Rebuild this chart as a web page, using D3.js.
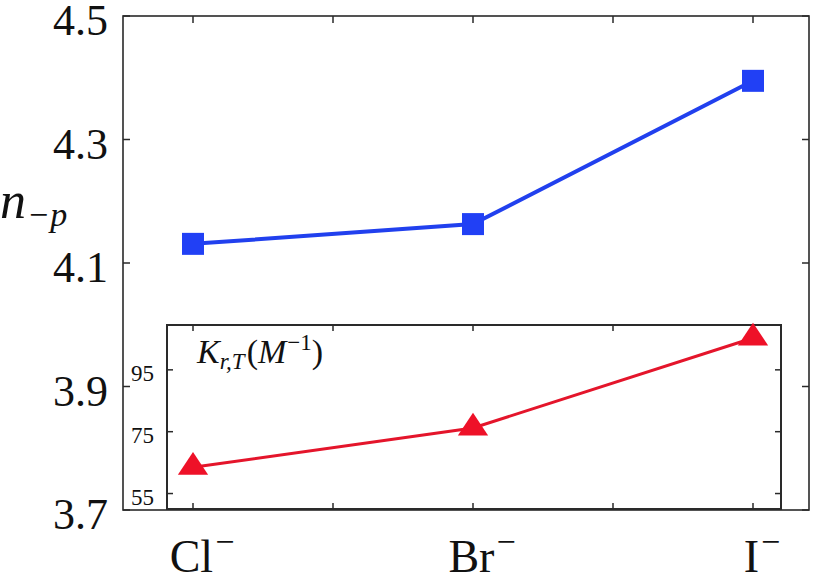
<!DOCTYPE html>
<html>
<head>
<meta charset="utf-8">
<script src="https://cdn.jsdelivr.net/npm/d3@7"></script>
<style>
  body { margin: 0; background: #fff; }
  text { font-family: "Liberation Serif", "DejaVu Serif", serif; fill: #111; }
</style>
</head>
<body>
<div class="chart"></div>
<script>
// data
var ions = ["Cl", "Br", "I"];
var nValues = [4.131, 4.163, 4.395];     // n_{-p}, main panel
var kValues = [63.5, 76.2, 105.3];       // K_{r,T} (M^-1), inset
var mainTicks = [3.7, 3.9, 4.1, 4.3, 4.5];
var insetTicks = [55, 75, 95];
var xTicks = [0, 0.5, 1, 1.5, 2];

var width = 813, height = 577;

var svg = d3.select(".chart")
    .append("svg")
    .attr("width", width)
    .attr("height", height);

// main panel scales
var x = d3.scaleLinear().domain([-0.25, 2.2]).range([123, 809]);
var y = d3.scaleLinear().domain([3.7, 4.5]).range([510, 16]);

// inset scales
var xi = d3.scaleLinear().domain([x.invert(167), x.invert(781)]).range([167, 781]);
var yi = d3.scaleLinear().domain([50, 109.5]).range([509, 325]);

var frameColor = "#2a2a2a";

function frame(xs, ys, w) {
    svg.append("rect")
        .attr("x", xs.range()[0])
        .attr("y", ys.range()[1])
        .attr("width", xs.range()[1] - xs.range()[0])
        .attr("height", ys.range()[0] - ys.range()[1])
        .attr("fill", "#fff")
        .attr("stroke", frameColor)
        .attr("stroke-width", w);
}

function ticks(xs, ys, xt, yt, len, w) {
    var g = svg.append("g")
        .attr("stroke", frameColor)
        .attr("stroke-width", w);
    var x0 = xs.range()[0], x1 = xs.range()[1];
    var y0 = ys.range()[0], y1 = ys.range()[1];
    yt.forEach(function (t) {
        g.append("line").attr("x1", x0).attr("x2", x0 + len).attr("y1", ys(t)).attr("y2", ys(t));
        g.append("line").attr("x1", x1).attr("x2", x1 - len).attr("y1", ys(t)).attr("y2", ys(t));
    });
    xt.forEach(function (t) {
        g.append("line").attr("x1", xs(t)).attr("x2", xs(t)).attr("y1", y1).attr("y2", y1 + len);
        g.append("line").attr("x1", xs(t)).attr("x2", xs(t)).attr("y1", y0).attr("y2", y0 - len);
    });
}

// ---- main panel
frame(x, y, 1.6);
ticks(x, y, xTicks, mainTicks, 7, 1.5);

svg.append("g").selectAll("text")
    .data(mainTicks)
    .enter().append("text")
    .attr("x", 108)
    .attr("y", function (d) { return y(d) + 19; })
    .attr("text-anchor", "end")
    .style("font-size", "44px")
    .text(function (d) { return d.toFixed(1); });

var line = d3.line()
    .x(function (d, i) { return x(i); })
    .y(function (d) { return y(d); });

svg.append("path")
    .datum(nValues)
    .attr("d", line)
    .attr("fill", "none")
    .attr("stroke", "#2140ee")
    .attr("stroke-width", 4);

svg.append("g").selectAll("rect")
    .data(nValues)
    .enter().append("rect")
    .attr("x", function (d, i) { return x(i) - 11; })
    .attr("y", function (d) { return y(d) - 11; })
    .attr("width", 22)
    .attr("height", 22)
    .attr("fill", "#2140f5");

// y label n_{-p}
var yl = svg.append("text")
    .attr("x", 0)
    .attr("y", 218)
    .style("font-size", "52px");
yl.append("tspan").style("font-style", "italic").text("n");
yl.append("tspan").attr("dx", 3).attr("dy", 8).style("font-size", "34px").text("\u2212");
yl.append("tspan").attr("dx", 2).style("font-size", "34px").style("font-style", "italic").text("p");

// x labels with superscript minus
ions.forEach(function (name, i) {
    var t = svg.append("text")
        .attr("x", x(i) + 9)
        .attr("y", 572)
        .attr("text-anchor", "middle")
        .style("font-size", "46px");
    t.append("tspan").text(name);
    t.append("tspan").attr("dx", 2).attr("dy", -19).style("font-size", "34px").text("\u2212");
});

// ---- inset
frame(xi, yi, 2);
ticks(xi, yi, xTicks, insetTicks, 6, 1.5);

svg.append("g").selectAll("text")
    .data(insetTicks)
    .enter().append("text")
    .attr("x", 154)
    .attr("y", function (d) { return yi(d) + 11; })
    .attr("text-anchor", "end")
    .style("font-size", "23px")
    .text(function (d) { return d; });

var lineI = d3.line()
    .x(function (d, i) { return xi(i); })
    .y(function (d) { return yi(d); });

svg.append("path")
    .datum(kValues)
    .attr("d", lineI)
    .attr("fill", "none")
    .attr("stroke", "#e4152b")
    .attr("stroke-width", 3);

var tri = d3.symbol().type(d3.symbolTriangle).size(300);
svg.append("g").selectAll("path")
    .data(kValues)
    .enter().append("path")
    .attr("d", tri)
    .attr("transform", function (d, i) {
        return "translate(" + xi(i) + "," + yi(d) + ") scale(1.15,1)";
    })
    .attr("fill", "#ee1128");

// inset label K_{r,T}(M^{-1})
var kl = svg.append("text")
    .attr("x", 197)
    .attr("y", 363)
    .style("font-size", "34px");
kl.append("tspan").style("font-style", "italic").text("K");
kl.append("tspan").attr("dy", 6).style("font-size", "23px").style("font-style", "italic").text("r,T");
kl.append("tspan").attr("dx", 2).attr("dy", -6).text("(");
kl.append("tspan").style("font-style", "italic").text("M");
kl.append("tspan").attr("dx", 1).attr("dy", -13).style("font-size", "23px").text("\u22121");
kl.append("tspan").attr("dy", 13).text(")");
</script>
</body>
</html>
